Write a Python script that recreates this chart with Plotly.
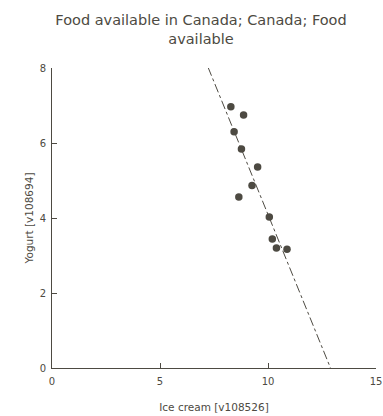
import numpy as np
import plotly.graph_objects as go

ice_cream = [8.28, 8.87, 8.43, 8.77, 9.52, 9.26, 8.65, 10.06, 10.20, 10.39, 10.88]
yogurt = [6.97, 6.75, 6.30, 5.84, 5.36, 4.87, 4.56, 4.03, 3.44, 3.20, 3.17]
x_ticks = [0, 5, 10, 15]
y_ticks = [0, 2, 4, 6, 8]

title_text = "Food available in Canada; Canada; Food<br>available"
x_title = "Ice cream [v108526]"
y_title = "Yogurt [v108694]"

slope, intercept = np.polyfit(ice_cream, yogurt, 1)
fit_x = np.linspace(0, 15, 200)
fit_y = slope * fit_x + intercept

ink = "#4d4a42"
font = "DejaVu Sans"

fig = go.Figure()
fig.add_trace(go.Scatter(x=fit_x, y=fit_y, mode="lines",
                         line=dict(color=ink, width=1, dash="dashdot"),
                         hoverinfo="skip", showlegend=False))
fig.add_trace(go.Scatter(x=ice_cream, y=yogurt, mode="markers",
                         marker=dict(color=ink, size=7.5, line=dict(width=0)),
                         showlegend=False))

fig.update_layout(
    width=383, height=416,
    margin=dict(l=52, r=7, t=68, b=48, autoexpand=False),
    paper_bgcolor="white", plot_bgcolor="white",
    font=dict(family=font, color=ink, size=10),
    title=dict(text=title_text, x=201/383, xanchor="center", xref="container",
               y=1 - 25/416, yanchor="middle",
               font=dict(family=font, size=14.5, color=ink)),
)
fig.update_xaxes(range=[0, 15], tickvals=x_ticks, ticks="inside", ticklen=5,
                 tickcolor=ink, showline=True, linecolor=ink, linewidth=1,
                 showgrid=False, zeroline=False, automargin=False,
                 ticklabelstandoff=4,
                 title=dict(text=x_title, standoff=17, font=dict(size=10.5)))
fig.update_yaxes(range=[0, 8], tickvals=y_ticks, ticks="inside", ticklen=5,
                 tickcolor=ink, showline=True, linecolor=ink, linewidth=1,
                 showgrid=False, zeroline=False, automargin=False,
                 ticklabelstandoff=3,
                 title=dict(text=y_title, standoff=3, font=dict(size=10.5)))

fig.write_html("out.html", config={"displayModeBar": False},
               post_script="document.body.style.margin='0';document.body.style.overflow='hidden';")
